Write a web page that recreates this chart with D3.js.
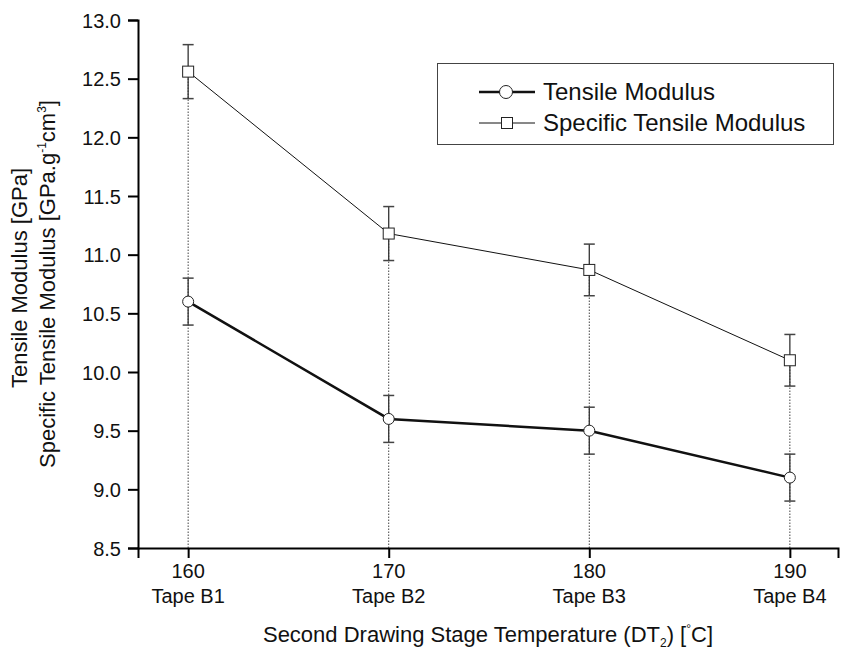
<!DOCTYPE html>
<html><head><meta charset="utf-8">
<script src="https://cdn.jsdelivr.net/npm/d3@7"></script>
<style>body{margin:0;background:#fff}svg{display:block;font-family:"Liberation Sans",Arial,sans-serif}</style>
</head><body><svg id="c" width="847" height="649"></svg>
<script>
const temps = [160, 170, 180, 190];
const tapes = ["Tape B1", "Tape B2", "Tape B3", "Tape B4"];
const tensile = [10.6, 9.6, 9.5, 9.1];
const tensileErr = [0.2, 0.2, 0.2, 0.2];
const specific = [12.56, 11.18, 10.87, 10.10];
const specificErr = [0.23, 0.23, 0.22, 0.22];
const yTicks = [8.5, 9.0, 9.5, 10.0, 10.5, 11.0, 11.5, 12.0, 12.5, 13.0];

const FF = "Liberation Sans, Arial, sans-serif";
const svg = d3.select("#c");
const x = d3.scaleLinear().domain([157.5, 192.4]).range([138, 838]);
const y = d3.scaleLinear().domain([8.5, 13.0]).range([548, 20]);

// drop lines
svg.append("g").selectAll("line").data(temps).join("line")
  .attr("x1", d => x(d)).attr("x2", d => x(d))
  .attr("y1", y(8.5)).attr("y2", (d, i) => y(specific[i]))
  .attr("stroke", "#444").attr("stroke-width", 1).attr("stroke-dasharray", "1.5,1.5");

// axes
const yAxis = svg.append("g").attr("transform", `translate(138,0)`)
  .call(d3.axisLeft(y).tickValues(yTicks).tickFormat(d3.format(".1f")).tickSizeOuter(0).tickSize(10).tickPadding(7));
const xAxis = svg.append("g").attr("transform", `translate(0,548)`)
  .call(d3.axisBottom(x).tickValues(temps).tickFormat("").tickSizeOuter(0).tickSize(10));
[yAxis, xAxis].forEach(a => {
  a.select(".domain").attr("stroke", "#000").attr("stroke-width", 2);
  a.selectAll(".tick line").attr("stroke", "#000").attr("stroke-width", 2);
});
yAxis.selectAll(".tick text").attr("font-size", 20).attr("fill", "#111").attr("font-family", FF).attr("dy", "0.35em");

const xl = svg.append("g");
temps.forEach((t, i) => {
  xl.append("text").attr("x", x(t)).attr("y", 578).attr("text-anchor", "middle").attr("font-size", 20).attr("fill", "#111").text(t);
  xl.append("text").attr("x", x(t)).attr("y", 603).attr("text-anchor", "middle").attr("font-size", 20).attr("fill", "#111").text(tapes[i]);
});

// x title
const xt = svg.append("text").attr("x", 488).attr("y", 642).attr("text-anchor", "middle").attr("font-size", 22).attr("fill", "#111");
xt.append("tspan").text("Second Drawing Stage Temperature (DT");
xt.append("tspan").attr("font-size", 12).attr("dy", 5).text("2");
xt.append("tspan").attr("dy", -5).text(") [");
xt.append("tspan").attr("font-size", 12).attr("dy", -9).text("°");
xt.append("tspan").attr("dy", 9).text("C]");

// y title
svg.append("text").attr("transform", "translate(27,278) rotate(-90)").attr("text-anchor", "middle").attr("font-size", 22).attr("fill", "#111").text("Tensile Modulus [GPa]");
const yt2 = svg.append("text").attr("transform", "translate(55,284) rotate(-90)").attr("text-anchor", "middle").attr("font-size", 22).attr("fill", "#111");
yt2.append("tspan").text("Specific Tensile Modulus [GPa.g");
yt2.append("tspan").attr("font-size", 12).attr("dy", -9).text("-1");
yt2.append("tspan").attr("dy", 9).text("cm");
yt2.append("tspan").attr("font-size", 12).attr("dy", -9).text("3");
yt2.append("tspan").attr("dy", 9).text("]");

function series(vals, errs, lw, marker) {
  const g = svg.append("g");
  vals.forEach((v, i) => {
    const cx = x(temps[i]);
    g.append("line").attr("x1", cx).attr("x2", cx).attr("y1", y(v + errs[i])).attr("y2", y(v - errs[i])).attr("stroke", "#333").attr("stroke-width", 1.3);
    [v + errs[i], v - errs[i]].forEach(e => g.append("line").attr("x1", cx - 5.5).attr("x2", cx + 5.5).attr("y1", y(e)).attr("y2", y(e)).attr("stroke", "#444").attr("stroke-width", 1.5));
  });
  g.append("path").datum(vals).attr("fill", "none").attr("stroke", "#111").attr("stroke-width", lw)
    .attr("d", d3.line().x((d, i) => x(temps[i])).y(d => y(d)));
  vals.forEach((v, i) => {
    const cx = x(temps[i]), cy = y(v);
    if (marker === "circle") g.append("circle").attr("cx", cx).attr("cy", cy).attr("r", 5.5).attr("fill", "#fff").attr("stroke", "#222").attr("stroke-width", 1);
    else g.append("rect").attr("x", cx - 5.5).attr("y", cy - 5.5).attr("width", 11).attr("height", 11).attr("fill", "#fff").attr("stroke", "#222").attr("stroke-width", 1);
  });
}
series(specific, specificErr, 1, "square");
series(tensile, tensileErr, 2.5, "circle");

// legend
const lg = svg.append("g");
lg.append("rect").attr("x", 437.5).attr("y", 63.5).attr("width", 396).attr("height", 81).attr("fill", "#fff").attr("stroke", "#444").attr("stroke-width", 1);
lg.append("line").attr("x1", 479).attr("x2", 535).attr("y1", 92).attr("y2", 92).attr("stroke", "#111").attr("stroke-width", 2.5);
lg.append("circle").attr("cx", 506).attr("cy", 92).attr("r", 6.5).attr("fill", "#fff").attr("stroke", "#222");
lg.append("text").attr("x", 543).attr("y", 100).attr("font-size", 24).attr("fill", "#111").text("Tensile Modulus");
lg.append("line").attr("x1", 479).attr("x2", 535).attr("y1", 123).attr("y2", 123).attr("stroke", "#111").attr("stroke-width", 1);
lg.append("rect").attr("x", 501.5).attr("y", 117.5).attr("width", 11).attr("height", 11).attr("fill", "#fff").attr("stroke", "#222");
lg.append("text").attr("x", 543).attr("y", 131).attr("font-size", 24).attr("fill", "#111").text("Specific Tensile Modulus");
</script></body></html>
